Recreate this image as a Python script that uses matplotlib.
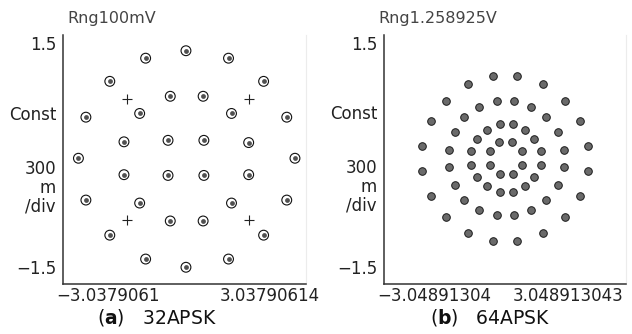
import numpy as np
import matplotlib
matplotlib.use("Agg")
import matplotlib.pyplot as plt

plt.rcParams['font.family'] = ['DejaVu Sans']
plt.rcParams['mathtext.fontset'] = 'dejavusans'

# ---- 32APSK: measured symbol positions (I, Q) ----
apsk32_i = [-0.01, -0.55, 0.56, -1.03, 1.03, -1.35, 1.34, -1.45, 1.45, -1.35, 1.34,
            -1.03, 1.03, -0.55, 0.56, -0.01,
            -0.22, 0.22, -0.63, 0.60, -0.84, 0.83, -0.84, 0.83, -0.63, 0.60, -0.22, 0.22,
            -0.25, 0.23, -0.25, 0.23]
apsk32_q = [1.45, 1.35, 1.35, 1.04, 1.04, 0.56, 0.56, 0.01, 0.01, -0.55, -0.55,
            -1.02, -1.02, -1.34, -1.34, -1.45,
            0.84, 0.84, 0.61, 0.61, 0.23, 0.22, -0.21, -0.21, -0.59, -0.59, -0.83, -0.83,
            0.25, 0.25, -0.22, -0.22]
# reference crosses
ref32_i = [-0.80, 0.83, -0.80, 0.83]
ref32_q = [0.81, 0.81, -0.82, -0.82]

# ---- 64APSK: measured symbol positions (I, Q) ----
apsk64_i = [-0.16, 0.15, -0.50, 0.51, -0.79, 0.80, -1.00, 1.00, -1.11, 1.11,
            -1.11, 1.11, -1.00, 1.00, -0.79, 0.80, -0.50, 0.51, -0.16, 0.15,
            -0.11, 0.12, -0.35, 0.35, -0.55, 0.55, -0.67, 0.71, -0.75, 0.78,
            -0.75, 0.78, -0.67, 0.70, -0.55, 0.55, -0.35, 0.35, -0.11, 0.12,
            -0.07, 0.10, -0.25, 0.27, -0.38, 0.39, -0.46, 0.48,
            -0.46, 0.48, -0.38, 0.39, -0.25, 0.27, -0.07, 0.10,
            -0.09, 0.09, -0.21, 0.22, -0.21, 0.22, -0.07, 0.10]
apsk64_q = [1.10, 1.10, 0.99, 0.99, 0.77, 0.77, 0.50, 0.50, 0.16, 0.16,
            -0.17, -0.17, -0.51, -0.51, -0.79, -0.79, -1.00, -1.00, -1.11, -1.11,
            0.76, 0.76, 0.68, 0.68, 0.55, 0.55, 0.35, 0.35, 0.11, 0.11,
            -0.12, -0.12, -0.36, -0.36, -0.56, -0.56, -0.69, -0.69, -0.76, -0.76,
            0.46, 0.46, 0.38, 0.38, 0.26, 0.26, 0.09, 0.09,
            -0.09, -0.09, -0.25, -0.26, -0.38, -0.38, -0.46, -0.46,
            0.21, 0.21, 0.09, 0.09, -0.09, -0.09, -0.21, -0.21]

range_labels = ["Rng100mV", "Rng1.258925V"]
xtick_labels = [["\u22123.0379061", "3.03790614"], ["\u22123.04891304", "3.048913043"]]
ytick_labels = ["\u22121.5", "1.5"]
panel_tags = ["a", "b"]
panel_names = ["32APSK", "64APSK"]

W, H = 632, 334
fig = plt.figure(figsize=(W / 100, H / 100), dpi=100)

s = 74.67  # px per unit


def make_axes(left_px, right_px, cx, cy, top_px=35, bottom_px=284):
    ax = fig.add_axes([left_px / W, 1 - bottom_px / H,
                       (right_px - left_px) / W, (bottom_px - top_px) / H])
    ax.set_xlim((left_px - cx) / s, (right_px - cx) / s)
    ax.set_ylim((cy - bottom_px) / s, (cy - top_px) / s)
    ax.spines['top'].set_visible(False)
    ax.spines['right'].set_color('#ececec')
    ax.spines['right'].set_linewidth(0.8)
    for side in ['left', 'bottom']:
        ax.spines[side].set_color('#333333')
        ax.spines[side].set_linewidth(1.1)
    ax.tick_params(length=0, labelsize=12, colors='#222222')
    ax.tick_params(axis='x', pad=2.5)
    ax.tick_params(axis='y', pad=5)
    ax.set_yticks([(cy - 267) / s, (cy - 43) / s])
    ax.set_yticklabels(ytick_labels)
    return ax


ax1 = make_axes(63, 306, 186.7, 159)
ax2 = make_axes(384, 626, 505.3, 158)

# left panel symbols
ax1.scatter(apsk32_i, apsk32_q, s=50, facecolor='none', edgecolor='#111111', linewidth=0.8, zorder=3)
ax1.scatter(apsk32_i, apsk32_q, s=12, color='#505050', linewidth=0, zorder=4)
ax1.scatter(ref32_i, ref32_q, s=50, marker='+', color='#222222', linewidth=0.8, zorder=3)
ax1.set_xticks([(108 - 186.7) / s, (270 - 186.7) / s])
ax1.set_xticklabels(xtick_labels[0])

# right panel symbols
ax2.scatter(apsk64_i, apsk64_q, s=30, facecolor='#6a6a6a', edgecolor='#1a1a1a', linewidth=0.7, zorder=3)
ax2.set_xticks([(434 - 505.3) / s, (568 - 505.3) / s])
ax2.set_xticklabels(xtick_labels[1])

for ax in (ax1, ax2):
    ax.annotate("Const", xy=(0, 0.59), xycoords=ax.get_yaxis_transform(),
                xytext=(-5, 0), textcoords='offset points', ha='right', va='center',
                fontsize=12, color='#222222')
    ax.annotate("300\nm\n/div", xy=(0, -0.39), xycoords=ax.get_yaxis_transform(),
                xytext=(-5, 0), textcoords='offset points', ha='right', va='center',
                multialignment='right', linespacing=1.05, fontsize=12, color='#222222')

# range labels and panel captions
for x_px, lbl in zip([67, 378], range_labels):
    fig.text(x_px / W, 1 - 18 / H, lbl, fontsize=11.5, color='#444444', va='center', ha='left')

for x_px, tag, name in zip([157, 490], panel_tags, panel_names):
    fig.text(x_px / W, 1 - 318 / H, "($\\mathbf{" + tag + "}$)   " + name,
             fontsize=13.5, color='#111111', va='center', ha='center')

fig.savefig("out.png", dpi=100)
